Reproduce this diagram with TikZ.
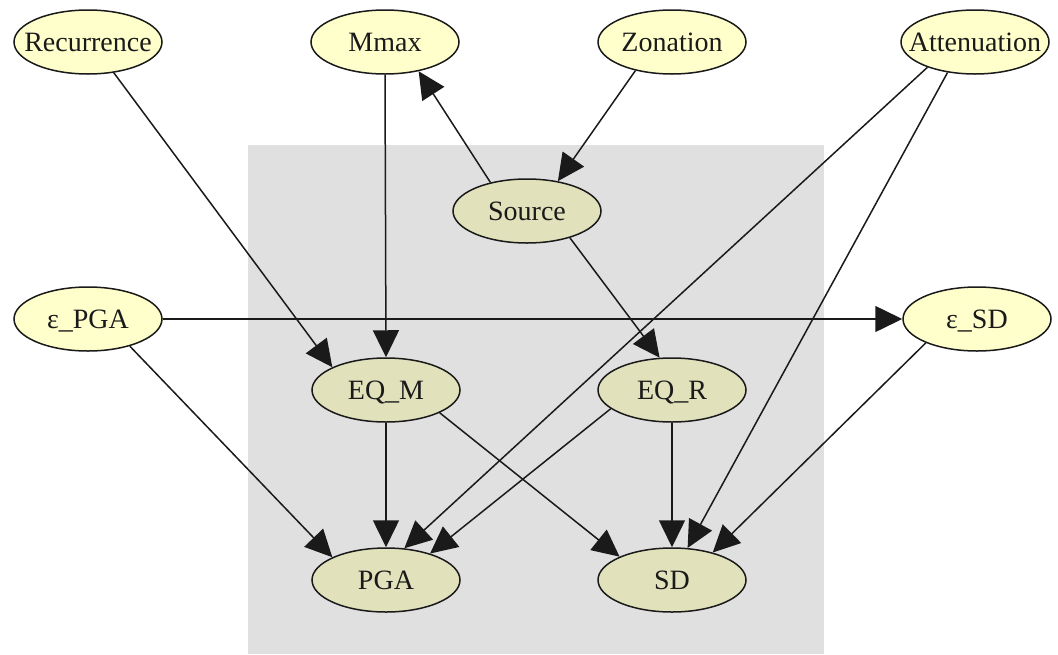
\documentclass[tikz,border=0pt]{standalone}
\usepackage{fontspec}
\setmainfont{Liberation Serif}
\usetikzlibrary{shapes.geometric,arrows.meta}
\definecolor{outerfill}{HTML}{FFFFCC}
\definecolor{innerfill}{HTML}{E1E1BC}
\definecolor{panel}{HTML}{E0E0E0}
\definecolor{ink}{HTML}{1A1A1A}
% label centred on the node, cap height centred vertically
\newcommand\ntext[1]{\makebox[0pt]{\smash{\raisebox{-0.331em}{#1}}}}
\tikzset{
  var/.style={ellipse, draw=ink, line width=1.5pt, inner sep=0pt,
    minimum width=148pt, minimum height=64pt, text=ink,
    font=\fontsize{28}{33}\selectfont},
  outer/.style={var, fill=outerfill},
  inner/.style={var, fill=innerfill},
  link/.style={draw=ink, line width=1.5pt,
    -{Triangle[length=27pt,width=26pt]}},
}
\begin{document}
\begin{tikzpicture}[x=1pt,y=-1pt]
\useasboundingbox (0,0) rectangle (1058,654);
\fill[panel] (248,145) rectangle (824,654);

\node[outer] (rec) at (88,42)  {\ntext{Recurrence}};
\node[outer] (mmax) at (385,42) {\ntext{Mmax}};
\node[outer] (zon) at (672,42) {\ntext{Zonation}};
\node[outer] (att) at (975,42) {\ntext{Attenuation}};
\node[inner] (src) at (527,211) {\ntext{Source}};
\node[outer] (epga) at (88,319) {\ntext{ε\_PGA}};
\node[outer] (esd) at (977,319) {\ntext{ε\_SD}};
\node[inner] (eqm) at (386,390) {\ntext{EQ\_M}};
\node[inner] (eqr) at (672,390) {\ntext{EQ\_R}};
\node[inner] (pga) at (386,580) {\ntext{PGA}};
\node[inner] (sd) at (672,580) {\ntext{SD}};

\draw[link] (rec.-50.5) -- (eqm.157);
\draw[link] (mmax.-90) -- (eqm.90);
\draw[link] (src.142) -- (mmax.-41.5);
\draw[link] (zon.-142) -- (src.44);
\draw[link] (att.-152.6) -- (pga.60);
\draw[link] (att.-132) -- (sd.64);
\draw[link] (src.-32.4) -- (eqr.111);
\draw[link] (epga.0) -- (esd.180);
\draw[link] (epga.-33.7) -- (pga.157.7);
\draw[link] (esd.-155.3) -- (sd.34.3);
\draw[link] (eqm.-90) -- (pga.90);
\draw[link] (eqm.-23) -- (sd.156.9);
\draw[link] (eqr.-163.4) -- (pga.31.5);
\draw[link] (eqr.-90) -- (sd.90);
\end{tikzpicture}
\end{document}
